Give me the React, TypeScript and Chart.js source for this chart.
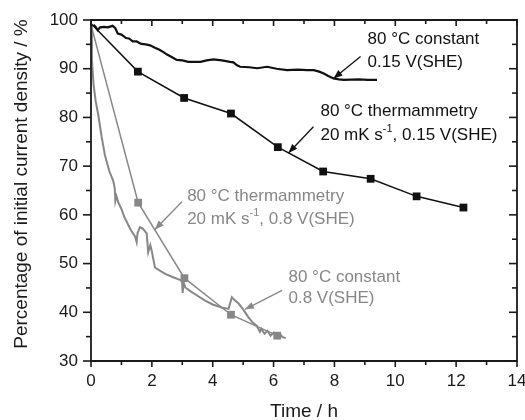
import React, { useEffect, useRef } from "react";
import { Chart, registerables } from "chart.js";

Chart.register(...registerables);

// ---- data (time in h, percentage of initial current density) ----
const blackConstX = [0.08, 0.15, 0.22, 0.3, 0.43, 0.55, 0.71, 0.8, 0.88, 1.0, 1.15, 1.25, 1.37, 1.5, 1.65, 1.8, 1.94, 2.1, 2.25, 2.38, 2.5, 2.65, 2.82, 3.0, 3.2, 3.37, 3.6, 3.8, 4.03, 4.3, 4.57, 4.68, 4.8, 4.9, 5.2, 5.46, 5.79, 6.1, 6.44, 6.8, 7.1, 7.32, 7.5, 7.65, 7.8, 7.97, 8.15, 8.3, 8.8, 9.1, 9.4];
const blackConstY = [99.0, 98.6, 97.9, 98.5, 98.6, 98.5, 98.8, 98.3, 97.2, 97.0, 96.3, 96.2, 95.6, 95.6, 95.1, 95.0, 94.8, 94.3, 93.9, 93.4, 92.9, 92.4, 91.8, 91.7, 91.4, 91.4, 91.4, 91.7, 91.9, 91.7, 91.4, 91.3, 90.7, 90.4, 90.3, 90.1, 90.4, 90.0, 89.7, 89.8, 89.7, 89.7, 89.4, 89.0, 88.5, 88.0, 87.8, 87.7, 87.8, 87.7, 87.7];

const blackThermoX = [0, 1.54, 3.06, 4.6, 6.14, 7.63, 9.19, 10.7, 12.24];
const blackThermoY = [99.3, 89.4, 84.0, 80.8, 73.9, 68.9, 67.4, 63.8, 61.5];

const grayThermoX = [0, 1.55, 3.07, 4.6, 6.12];
const grayThermoY = [99.0, 62.5, 47.0, 39.5, 35.2];

const grayConstX = [0, 0.03, 0.08, 0.15, 0.24, 0.35, 0.46, 0.6, 0.73, 0.78, 0.8, 0.84, 0.9, 1.0, 1.1, 1.3, 1.45, 1.5, 1.53, 1.61, 1.7, 1.83, 1.88, 1.95, 2.0, 2.1, 2.25, 2.44, 2.7, 2.99, 3.01, 3.05, 3.1, 3.3, 3.5, 3.75, 4.0, 4.3, 4.52, 4.58, 4.63, 4.7, 4.85, 5.0, 5.17, 5.3, 5.45, 5.55, 5.6, 5.7, 5.8, 5.9, 6.0, 6.1, 6.2, 6.3, 6.4];
const grayConstY = [99.0, 92.0, 87.0, 83.5, 80.5, 76.0, 72.2, 69.0, 67.0, 65.5, 62.8, 63.8, 62.5, 61.2, 59.5, 57.0, 55.5, 54.4, 56.3, 57.5, 57.2, 56.2, 52.3, 53.8, 52.5, 49.2, 48.6, 47.9, 47.2, 46.5, 44.0, 46.0, 45.1, 44.2, 43.4, 42.4, 41.6, 41.0, 40.7, 42.0, 43.1, 42.6, 41.8, 40.6, 39.0, 38.0, 37.2, 36.0, 36.6, 35.6, 36.2, 35.2, 35.8, 35.0, 35.6, 34.9, 34.7];

const xMin = 0;
const xMax = 14;
const yMin = 30;
const yMax = 100;
const xTitle = "Time / h";
const yTitle = "Percentage of initial current density / %";

const BLACK = "#111111";
const GRAY = "#878787";

type Seg = { t: string; sup?: boolean };
type Note = { color: string; x: number; y1: number; y2: number; lines: Seg[][]; from: [number, number]; to: [number, number] };

const notes: Note[] = [
  {
    color: BLACK, x: 9.09, y1: 96.0, y2: 91.3,
    lines: [[{ t: "80 °C constant" }], [{ t: "0.15 V(SHE)" }]],
    from: [8.86, 92.5], to: [7.97, 88.0],
  },
  {
    color: BLACK, x: 7.54, y1: 81.2, y2: 76.4,
    lines: [[{ t: "80 °C thermammetry" }], [{ t: "20 mK s" }, { t: "-1", sup: true }, { t: ", 0.15 V(SHE)" }]],
    from: [7.31, 78.1], to: [6.49, 72.7],
  },
  {
    color: GRAY, x: 3.16, y1: 63.9, y2: 59.1,
    lines: [[{ t: "80 °C thermammetry" }], [{ t: "20 mK s" }, { t: "-1", sup: true }, { t: ", 0.8 V(SHE)" }]],
    from: [2.99, 62.7], to: [2.1, 57.0],
  },
  {
    color: GRAY, x: 6.49, y1: 47.2, y2: 42.9,
    lines: [[{ t: "80 °C constant" }], [{ t: "0.8 V(SHE)" }]],
    from: [6.28, 44.5], to: [5.06, 40.6],
  },
];

const FONT = "'Liberation Sans', Arial, Helvetica, sans-serif";

const pts = (xs: number[], ys: number[]) => xs.map((x, i) => ({ x, y: ys[i] }));

const decor = {
  id: "decor",
  afterDraw(chart: any) {
    const { ctx, chartArea: a, scales } = chart;
    const xs = scales.x;
    const ys = scales.y;
    ctx.save();
    ctx.strokeStyle = "#1a1a1a";
    ctx.lineWidth = 1.8;
    const seg = (x1: number, y1: number, x2: number, y2: number) => {
      ctx.beginPath();
      ctx.moveTo(x1, y1);
      ctx.lineTo(x2, y2);
      ctx.stroke();
    };
    const L0 = a.left, R0 = a.right, T0 = a.top, B0 = a.bottom;
    ctx.beginPath();
    ctx.moveTo(L0, T0);
    ctx.lineTo(R0, T0);
    ctx.lineTo(R0, B0);
    ctx.lineTo(L0, B0);
    ctx.closePath();
    ctx.stroke();
    ctx.lineWidth = 1.6;
    for (let v = xMin; v <= xMax; v += 1) {
      const px = xs.getPixelForValue(v);
      const L = v % 2 === 0 ? 6 : 4;
      seg(px, B0, px, B0 + L);
      seg(px, T0, px, T0 + L);
    }
    for (let v = yMin; v <= yMax; v += 5) {
      const py = ys.getPixelForValue(v);
      const L = v % 10 === 0 ? 8 : 5;
      seg(L0 - L, py, L0, py);
      seg(R0 - L, py, R0, py);
    }

    // annotations
    for (const n of notes) {
      ctx.fillStyle = n.color;
      ctx.strokeStyle = n.color;
      ctx.textBaseline = "middle";
      ctx.textAlign = "left";
      const x0 = xs.getPixelForValue(n.x);
      [n.y1, n.y2].forEach((yy, li) => {
        let cx = x0;
        const cy = ys.getPixelForValue(yy);
        for (const s of n.lines[li]) {
          if (s.sup) {
            ctx.font = `11px ${FONT}`;
            ctx.fillText(s.t, cx, cy - 6);
          } else {
            ctx.font = `17px ${FONT}`;
            ctx.fillText(s.t, cx, cy);
          }
          cx += ctx.measureText(s.t).width;
        }
      });
      const fx = xs.getPixelForValue(n.from[0]);
      const fy = ys.getPixelForValue(n.from[1]);
      const tx = xs.getPixelForValue(n.to[0]);
      const ty = ys.getPixelForValue(n.to[1]);
      ctx.lineWidth = 1.3;
      seg(fx, fy, tx, ty);
      const ang = Math.atan2(ty - fy, tx - fx);
      const hl = 9, hw = 3.5;
      ctx.beginPath();
      ctx.moveTo(tx, ty);
      ctx.lineTo(tx - hl * Math.cos(ang) + hw * Math.sin(ang), ty - hl * Math.sin(ang) - hw * Math.cos(ang));
      ctx.lineTo(tx - hl * Math.cos(ang) - hw * Math.sin(ang), ty - hl * Math.sin(ang) + hw * Math.cos(ang));
      ctx.closePath();
      ctx.fill();
    }

    // axis titles
    ctx.fillStyle = "#1a1a1a";
    ctx.font = `19px ${FONT}`;
    ctx.textAlign = "center";
    ctx.textBaseline = "middle";
    ctx.fillText(xTitle, 304, 412);
    ctx.save();
    ctx.translate(22, 184);
    ctx.rotate(-Math.PI / 2);
    ctx.fillText(yTitle, 0, 0);
    ctx.restore();
    ctx.restore();
  },
};

export default function App() {
  const ref = useRef<HTMLCanvasElement>(null);
  useEffect(() => {
    document.body.style.margin = "0";
    const hide = (arr: number[]) => arr.map((_, i) => (i === 0 ? 0 : 5.5));
    const chart = new Chart(ref.current!, {
      type: "line",
      data: {
        datasets: [
          {
            label: "80 °C constant 0.15 V(SHE)",
            data: pts(blackConstX, blackConstY),
            borderColor: BLACK,
            borderWidth: 2.2,
            pointRadius: 0,
            tension: 0,
          },
          {
            label: "80 °C thermammetry 20 mK s-1, 0.15 V(SHE)",
            data: pts(blackThermoX, blackThermoY),
            borderColor: BLACK,
            backgroundColor: BLACK,
            borderWidth: 1.5,
            pointStyle: "rect",
            pointRadius: hide(blackThermoX),
            pointBorderWidth: 0,
          },
          {
            label: "80 °C constant 0.8 V(SHE)",
            data: pts(grayConstX, grayConstY),
            borderColor: GRAY,
            borderWidth: 2,
            pointRadius: 0,
          },
          {
            label: "80 °C thermammetry 20 mK s-1, 0.8 V(SHE)",
            data: pts(grayThermoX, grayThermoY),
            borderColor: GRAY,
            backgroundColor: GRAY,
            borderWidth: 1.5,
            pointStyle: "rect",
            pointRadius: hide(grayThermoX),
            pointBorderWidth: 0,
          },
        ],
      },
      options: {
        responsive: false,
        animation: false,
        devicePixelRatio: 1,
        layout: { padding: { top: 20, right: 8, left: 0, bottom: 0 } },
        plugins: { legend: { display: false }, tooltip: { enabled: false } },
        scales: {
          x: {
            type: "linear",
            min: xMin,
            max: xMax,
            grid: { display: false, drawTicks: false },
            border: { display: false },
            ticks: {
              stepSize: 1,
              padding: 10,
              color: "#1a1a1a",
              font: { family: FONT, size: 17 },
              maxRotation: 0,
              autoSkip: false,
              callback: (v: any) => (Number(v) % 2 === 0 ? String(v) : ""),
            },
            afterFit: (s: any) => {
              s.height = 59;
              s.paddingLeft = 0;
              s.paddingRight = 0;
            },
          },
          y: {
            type: "linear",
            min: yMin,
            max: yMax,
            grid: { display: false, drawTicks: false },
            border: { display: false },
            ticks: {
              stepSize: 5,
              padding: 13,
              color: "#1a1a1a",
              font: { family: FONT, size: 17 },
              autoSkip: false,
              callback: (v: any) => (Number(v) % 10 === 0 ? String(v) : ""),
            },
            afterFit: (s: any) => {
              s.width = 91;
              s.paddingTop = 0;
              s.paddingBottom = 0;
            },
          },
        },
      },
      plugins: [decor],
    } as any);
    return () => chart.destroy();
  }, []);
  return (
    <div style={{ width: 525, height: 420 }}>
      <canvas ref={ref} width={525} height={420} />
    </div>
  );
}
